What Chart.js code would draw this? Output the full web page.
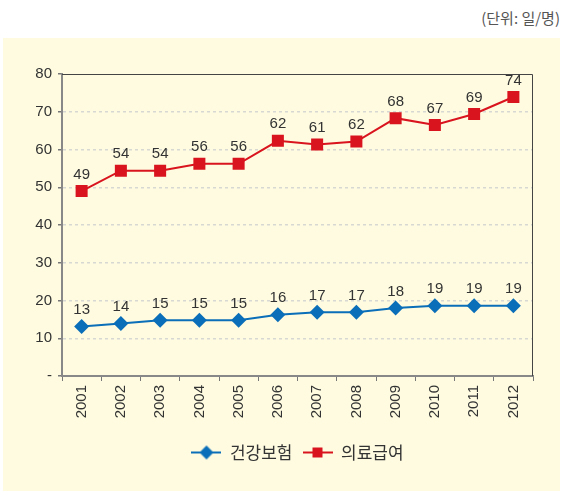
<!DOCTYPE html>
<html>
<head>
<meta charset="utf-8">
<script src="https://cdn.jsdelivr.net/npm/chart.js@4.4.1/dist/chart.umd.min.js"></script>
<style>
  body { margin: 0; background: #fff; width: 563px; height: 491px; position: relative; overflow: hidden; }
  #unit { position: absolute; right: 3px; top: 7px; font: 15px "Noto Sans CJK KR", "Liberation Sans", sans-serif; color: #555; }
  #box { position: absolute; left: 3px; top: 38px; width: 557px; height: 453px; background: #FEFBE0; }
</style>
</head>
<body>
<div id="unit">(단위: 일/명)</div>
<div id="box"><canvas id="chart"></canvas></div>
<script>
// 데이터
const years = ['2001','2002','2003','2004','2005','2006','2007','2008','2009','2010','2011','2012'];
const seriesNames = ['건강보험', '의료급여'];
const health = [13.1, 13.9, 14.8, 14.8, 14.8, 16.2, 16.9, 16.9, 18.0, 18.6, 18.6, 18.6];
const medicaid = [49.0, 54.4, 54.4, 56.2, 56.2, 62.3, 61.3, 62.1, 68.3, 66.5, 69.4, 73.9];
const yTicks = [0, 10, 20, 30, 40, 50, 60, 70, 80];

const blue = '#0A6EB8';
const red = '#D9141E';
const fontNum = '"Liberation Sans", Arial, sans-serif';

// 범례 아이콘 (선 + 마커)
function legendIcon(color, shape) {
    let c = document.createElement('canvas');
    c.width = 30; c.height = 16;
    let g = c.getContext('2d');
    g.strokeStyle = color;
    g.lineWidth = 2;
    g.beginPath(); g.moveTo(0, 8); g.lineTo(30, 8); g.stroke();
    g.fillStyle = color;
    g.beginPath();
    if (shape === 'diamond') {
        g.moveTo(15, 1); g.lineTo(22, 8); g.lineTo(15, 15); g.lineTo(8, 8);
    } else {
        g.rect(10, 3, 10, 10);
    }
    g.closePath(); g.fill();
    return c;
}
const icons = [legendIcon(blue, 'diamond'), legendIcon(red, 'square')];

// 값 라벨
const valueLabels = {
    id: 'valueLabels',
    afterDatasetsDraw(chart) {
        const ctx = chart.ctx;
        ctx.save();
        ctx.font = '15px ' + fontNum;
        ctx.fillStyle = '#333';
        ctx.textAlign = 'center';
        ctx.textBaseline = 'bottom';
        chart.data.datasets.forEach((ds, i) => {
            chart.getDatasetMeta(i).data.forEach((pt, j) => {
                ctx.fillText(Math.round(ds.data[j]), pt.x, pt.y - 9);
            });
        });
        ctx.restore();
    }
};

// 위, 오른쪽 테두리
const frame = {
    id: 'frame',
    beforeDatasetsDraw(chart) {
        const a = chart.chartArea;
        const ctx = chart.ctx;
        ctx.save();
        ctx.strokeStyle = '#444';
        ctx.lineWidth = 1;
        ctx.beginPath();
        ctx.moveTo(a.left, a.top + 0.5);
        ctx.lineTo(a.right - 0.5, a.top + 0.5);
        ctx.lineTo(a.right - 0.5, a.bottom);
        ctx.stroke();
        ctx.restore();
    }
};

// 범례를 그림 영역 가운데로
const legendShift = {
    id: 'legendShift',
    afterLayout(chart) {
        const a = chart.chartArea;
        const lg = chart.legend;
        const d = (a.left + a.right) / 2 - (lg.left + lg.right) / 2;
        lg.left += d;
        lg.right += d;
    }
};

const ctx = document.getElementById('chart').getContext('2d');
new Chart(ctx, {
    type: 'line',
    data: {
        labels: years,
        datasets: [{
            label: seriesNames[0],
            data: health,
            borderColor: blue,
            backgroundColor: blue,
            borderWidth: 2,
            pointStyle: 'rectRot',
            pointRadius: 7.5,
            pointHoverRadius: 7.5,
            pointBorderWidth: 0
        }, {
            label: seriesNames[1],
            data: medicaid,
            borderColor: red,
            backgroundColor: red,
            borderWidth: 2,
            pointStyle: 'rect',
            pointRadius: 8.5,
            pointHoverRadius: 8.5,
            pointBorderWidth: 0
        }]
    },
    options: {
        responsive: true,
        maintainAspectRatio: false,
        animation: false,
        layout: { padding: { top: 36, right: 27, left: 0, bottom: 20 } },
        plugins: {
            tooltip: { enabled: false },
            legend: {
                position: 'bottom',
                labels: {
                    usePointStyle: true,
                    pointStyleWidth: 30,
                    padding: 10,
                    color: '#333',
                    font: { size: 17, family: '"Noto Sans CJK KR", sans-serif' },
                    generateLabels: function(chart) {
                        return chart.data.datasets.map((ds, i) => ({
                            text: ds.label,
                            pointStyle: icons[i],
                            fillStyle: ds.borderColor,
                            strokeStyle: ds.borderColor,
                            lineWidth: 0,
                            fontColor: '#333',
                            datasetIndex: i
                        }));
                    }
                }
            }
        },
        scales: {
            x: {
                offset: true,
                grid: {
                    offset: true,
                    drawOnChartArea: false,
                    drawTicks: true,
                    tickLength: 5,
                    color: '#777'
                },
                border: { color: '#888', width: 2 },
                ticks: {
                    minRotation: 90,
                    maxRotation: 90,
                    padding: 4,
                    color: '#333',
                    font: { size: 15, family: fontNum }
                },
                afterFit: function(scale) { scale.height = 58; }
            },
            y: {
                min: 0,
                max: 80,
                afterBuildTicks: function(scale) {
                    scale.ticks = yTicks.map(v => ({ value: v }));
                },
                grid: {
                    color: function(c) { return c.tick.value === 0 || c.tick.value === 80 ? 'rgba(0,0,0,0)' : '#D8D8D2'; },
                    tickColor: '#777',
                    tickBorderDash: [],
                    tickLength: 4,
                    lineWidth: 1.5
                },
                border: { color: '#888', width: 2, dash: [3, 3] },
                ticks: {
                    padding: 6,
                    color: '#333',
                    font: { size: 15, family: fontNum },
                    callback: function(v) { return v === 0 ? '-' : v; }
                },
                afterFit: function(scale) { scale.width = 59; }
            }
        }
    },
    plugins: [valueLabels, frame, legendShift]
});
</script>
</body>
</html>
